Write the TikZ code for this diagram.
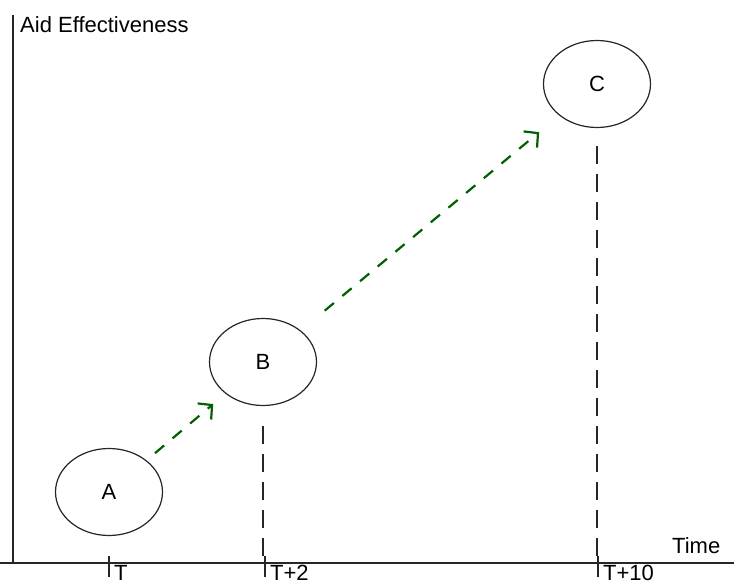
\documentclass[tikz,border=0pt]{standalone}
\usepackage{fontspec}
\setmainfont{Liberation Sans}
\usetikzlibrary{arrows.meta, shapes.geometric}

\definecolor{trendgreen}{RGB}{0,96,0}

\begin{document}
\begin{tikzpicture}[
  x=1pt, y=-1pt,
  font=\fontsize{22}{26}\selectfont,
  axis/.style={line width=1.2pt, draw=black!85},
  stage/.style={
    ellipse, draw=black!85, line width=1.2pt, inner sep=0pt,
    minimum width=107pt, minimum height=87pt,
  },
  guide/.style={line width=1.2pt, draw=black!85, dash pattern=on 18pt off 10pt},
  trend/.style={
    draw=trendgreen, line width=2.2pt, dash pattern=on 12pt off 11pt,
    -{Straight Barb[length=10pt, width=21pt]},
  },
  lbl/.style={inner sep=0pt, anchor=base west},
]
\useasboundingbox (0,0) rectangle (734,586);

% ---- Axes ----------------------------------------------------------------
\coordinate (origin) at (13,563);
\coordinate (ytop)   at (13,15);
\coordinate (xleft)  at (0,563);
\coordinate (xright) at (734,563);
\draw[axis] (ytop) -- (origin);
\draw[axis] (xleft) -- (xright);

\node[lbl] (ylabel) at (20,33)  {Aid Effectiveness};
\node[lbl] (xlabel) at (672,553) {Time};

% ---- Time ticks ------------------------------------------------------------
\coordinate (tA) at (109,563);
\coordinate (tB) at (265,563);
\coordinate (tC) at (598,563);
\foreach \t in {tA, tB, tC}
  \draw[axis] (\t) ++(0,-7) -- ++(0,21);

\node[lbl] (labA) at (114,580) {T};
\node[lbl] (labB) at (270,580) {T+2};
\node[lbl] (labC) at (603,580) {T+10};

% ---- Stages ----------------------------------------------------------------
\node[stage] (A) at (109,492) {A};
\node[stage] (B) at (263,362) {B};
\node[stage] (C) at (597,84)  {C};

% ---- Drop lines to the time axis -------------------------------------------
\draw[guide, shorten <=20pt] (B.south) -- (B.south |- tB);
\draw[guide, shorten <=18pt] (C.south) -- (C.south |- tC);

% ---- Growth between stages -------------------------------------------------
\draw[trend, shorten <=11pt, shorten >=16pt] (A) -- (B);
\draw[trend, shorten <=31pt, shorten >=26pt] (B) -- (C);

\end{tikzpicture}
\end{document}
